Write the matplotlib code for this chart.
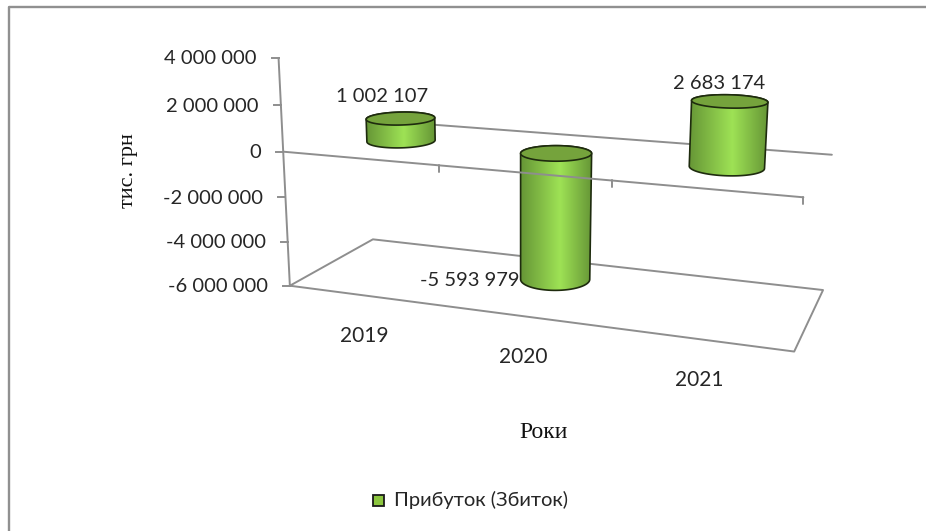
import numpy as np
import matplotlib
matplotlib.use("Agg")
import matplotlib.pyplot as plt
from matplotlib.patches import Polygon, Rectangle

# ---- data ----
categories = ["2019", "2020", "2021"]
profit = [1002107, -5593979, 2683174]
value_labels = ["1 002 107", "-5 593 979", "2 683 174"]
y_ticks = [4000000, 2000000, 0, -2000000, -4000000, -6000000]
y_tick_labels = ["4 000 000", "2 000 000", "0", "-2 000 000", "-4 000 000", "-6 000 000"]
series_name = "Прибуток (Збиток)"
y_title = "тис. грн"
x_title = "Роки"

# ---- camera calibration: (category, depth, value in millions) -> pixel ----
WORLD = np.array([(0,0,-6),(3,0,-6),(3,1,-6),(0,1,-6),(0,0,0),(3,0,0),(3,1,0),(0,1,0),
                  (0,0,4),(1,0,0),(2,0,0)], float)
PIX = np.array([(291,286),(795,351),(823,290),(371,239),(283,152),(803,197),(832,155),(371,120),
                (278,57),(439,166),(611,181)], float)
A, b = [], []
for (X, Y, Z), (u, v) in zip(WORLD, PIX):
    A.append([X, Y, Z, 1, 0, 0, 0, 0, -u*X, -u*Y, -u*Z]); b.append(u)
    A.append([0, 0, 0, 0, X, Y, Z, 1, -v*X, -v*Y, -v*Z]); b.append(v)
p = np.linalg.lstsq(np.array(A), np.array(b), rcond=None)[0]
P = np.append(p, 1).reshape(3, 4)

def proj(c, d, val):
    c, d, val = np.broadcast_arrays(c, d, np.asarray(val, float) / 1e6)
    w = P @ np.vstack([c.ravel(), d.ravel(), val.ravel(), np.ones(c.size)])
    return np.squeeze(w[0] / w[2]), np.squeeze(w[1] / w[2])

def hull(pts):
    pts = sorted(map(tuple, pts))
    def half(seq):
        out = []
        for q in seq:
            while len(out) > 1 and ((out[-1][0]-out[-2][0])*(q[1]-out[-2][1]) -
                                    (out[-1][1]-out[-2][1])*(q[0]-out[-2][0])) <= 0:
                out.pop()
            out.append(q)
        return out[:-1]
    return np.array(half(pts) + half(pts[::-1]))

LINE = "#8e8e8e"
TXT = "#262626"
SANS = ["Lato", "Open Sans", "DejaVu Sans"]
SERIF = ["Liberation Serif"]
RC, RD = 0.205, 0.2
DEPTH = 0.5
FS = 14.5

fig = plt.figure(figsize=(9.26, 5.31), dpi=100)
ax = fig.add_axes([0, 0, 1, 1])
ax.axis("off")

def seg(a, b, z=1, lw=1.4):
    ax.plot([a[0], b[0]], [a[1], b[1]], color=LINE, lw=lw, zorder=z, solid_capstyle="round")

# chart frame
ax.plot([9, 9, 926], [531, 7, 7], color="#909090", lw=1.7, zorder=1)

# back zero line, floor
n = len(categories)
seg(proj(0.45, 1, 0), proj(n, 1, 0))
floor = np.array([proj(0, 0, -6e6), proj(n, 0, -6e6), proj(n, 1, -6e6), proj(0, 1, -6e6), proj(0, 0, -6e6)])
ax.plot(floor[:, 0], floor[:, 1], color=LINE, lw=1.4, zorder=1)

# value axis and ticks
seg(proj(0, 0, y_ticks[0]), proj(0, 0, y_ticks[-1]), z=1)
for t, lab in zip(y_ticks, y_tick_labels):
    x, y = proj(0, 0, t)
    ax.plot([x - 7, x], [y, y], color=LINE, lw=1.4, zorder=1)
    ax.text(x - 22, y + 1, lab, ha="right", va="center", fontsize=FS, color=TXT, family=SANS)

# cylinders
theta = np.linspace(0, 2*np.pi, 121)
grad = np.interp(np.linspace(0, 1, 256), [0, 0.55, 1], [0, 1, 0])
dark, light = np.array([0x66, 0x96, 0x36]) / 255, np.array([0x9e, 0xe2, 0x55]) / 255
img = (dark[None, :] + (light - dark)[None, :] * grad[:, None])[None, :, :]
for i, val in enumerate(profit):
    cc = i + 0.5 + RC * np.cos(theta)
    dd = DEPTH + RD * np.sin(theta)
    tx, ty = proj(cc, dd, max(val, 0))
    bx, by = proj(cc, dd, min(val, 0))
    h = hull(np.column_stack([np.r_[tx, bx], np.r_[ty, by]]))
    im = ax.imshow(img, extent=(h[:, 0].min(), h[:, 0].max(), h[:, 1].max(), h[:, 1].min()),
                   aspect="auto", zorder=3, interpolation="bilinear")
    body = Polygon(h, closed=True, fc="none", ec="#1e2b0e", lw=1.2, zorder=4)
    ax.add_patch(body)
    im.set_clip_path(body)
    ax.add_patch(Polygon(np.column_stack([tx, ty]), closed=True, fc="#75a33c", ec="#1e2b0e", lw=1.2, zorder=5))

# front zero line with category ticks (over the bars)
seg(proj(0, 0, 0), proj(n, 0, 0), z=6)
for c in range(1, n + 1):
    x, y = proj(c, 0, 0)
    seg((x, y), (x, y + 7), z=6)

# value labels
lx, ly = proj(0.5, DEPTH, profit[0]); ax.text(lx - 19, ly - 22, value_labels[0], ha="center", va="center", fontsize=FS, color=TXT, family=SANS)
lx, ly = proj(1.5, DEPTH, profit[1]); ax.text(lx - 36, ly + 2, value_labels[1], ha="right", va="center", fontsize=FS, color=TXT, family=SANS)
lx, ly = proj(2.5, DEPTH, profit[2]); ax.text(lx - 10, ly - 18, value_labels[2], ha="center", va="center", fontsize=FS, color=TXT, family=SANS)

# category labels
for i, cat in enumerate(categories):
    x, y = proj(i + 0.5, 0, -6e6)
    ax.text(x + 0.5, y + 41, cat, ha="center", va="center", fontsize=FS + 0.5, color=TXT, family=SANS)

# axis titles
ax.text(129, 171, y_title, rotation=90, ha="center", va="center", fontsize=16, color="#111111", family=SERIF)
ax.text(544, 432, x_title, ha="center", va="center", fontsize=17, color="#111111", family=SERIF)

# legend
ax.add_patch(Rectangle((373, 495), 11, 11, fc="#8cc63f", ec="#1a1a1a", lw=1.3, zorder=3))
ax.text(394, 500, series_name, ha="left", va="center", fontsize=14.5, color=TXT, family=SANS)

ax.set_xlim(0, 926)
ax.set_ylim(531, 0)
fig.savefig("out.png", dpi=100, facecolor="white")
